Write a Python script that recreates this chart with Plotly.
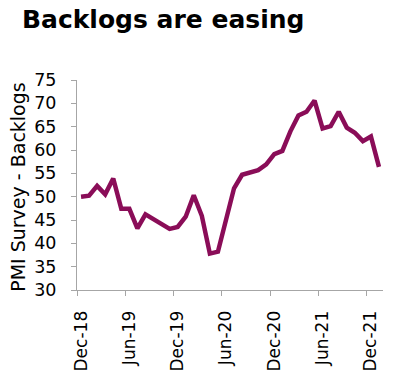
import plotly.graph_objects as go

months = ["Dec-18","Jan-19","Feb-19","Mar-19","Apr-19","May-19","Jun-19","Jul-19","Aug-19","Sep-19","Oct-19","Nov-19",
          "Dec-19","Jan-20","Feb-20","Mar-20","Apr-20","May-20","Jun-20","Jul-20","Aug-20","Sep-20","Oct-20","Nov-20",
          "Dec-20","Jan-21","Feb-21","Mar-21","Apr-21","May-21","Jun-21","Jul-21","Aug-21","Sep-21","Oct-21","Nov-21",
          "Dec-21","Jan-22"]
backlogs = [50.0, 50.2, 52.3, 50.5, 53.9, 47.4, 47.4, 43.2, 46.2, 45.2, 44.2, 43.1,
            43.5, 45.7, 50.3, 45.9, 37.8, 38.2, 45.0, 51.8, 54.7, 55.2, 55.7, 56.9,
            59.1, 59.8, 64.0, 67.4, 68.2, 70.6, 64.6, 65.1, 68.2, 64.8, 63.7, 61.9,
            62.9, 56.4]
label_months = ["Dec-18","Jun-19","Dec-19","Jun-20","Dec-20","Jun-21","Dec-21"]
y_ticks = [30, 35, 40, 45, 50, 55, 60, 65, 70, 75]

idx = list(range(len(months)))
label_idx = [months.index(m) for m in label_months]
boundary_idx = [i - 0.5 for i in label_idx]
xr = [-0.5, len(months) - 0.5]

GRAY = "#a6a6a6"
LINE = "#8a0d58"
FONT = "DejaVu Sans"

fig = go.Figure()
fig.add_trace(go.Scatter(x=idx, y=backlogs, mode="lines",
                         line=dict(color=LINE, width=4.5), hoverinfo="skip",
                         showlegend=False))
fig.add_trace(go.Scatter(x=idx, y=backlogs, mode="lines", xaxis="x2",
                         line=dict(color="rgba(0,0,0,0)", width=0), hoverinfo="skip",
                         showlegend=False))

fig.update_layout(
    width=393, height=381,
    margin=dict(l=77, r=10, t=80, b=81),
    paper_bgcolor="white", plot_bgcolor="white",
    font=dict(family=FONT, color="#000000", size=17),
    title=dict(text="<b>Backlogs are easing</b>", xref="container", yref="container",
               x=22/393, xanchor="left", y=1 - 10/381, yanchor="top",
               font=dict(family=FONT, size=25, color="#000000")),
    xaxis=dict(range=xr, tickmode="array", tickvals=boundary_idx,
               ticktext=["" for _ in boundary_idx],
               ticks="outside", ticklen=5, tickcolor=GRAY, tickwidth=1,
               showline=True, linecolor=GRAY, linewidth=1,
               showgrid=False, zeroline=False, fixedrange=True),
    xaxis2=dict(range=xr, overlaying="x", anchor="y", side="bottom",
                tickmode="array", tickvals=label_idx, ticktext=label_months,
                tickangle=-90, ticks="outside", ticklen=5, tickcolor="rgba(0,0,0,0)",
                ticklabelstandoff=8,
                showline=False, showgrid=False, zeroline=False,
                tickfont=dict(family=FONT, size=17, color="#000000")),
    yaxis=dict(range=[30, 75], tickmode="array", tickvals=y_ticks,
               ticks="outside", ticklen=5, tickcolor=GRAY, tickwidth=1,
               ticklabelstandoff=11,
               showline=True, linecolor=GRAY, linewidth=1,
               showgrid=False, zeroline=False,
               tickfont=dict(family=FONT, size=17.5, color="#000000")),
    annotations=[dict(text="PMI Survey - Backlogs", xref="paper", yref="paper",
                      x=-77/306 + 18.5/306, y=0.489, xanchor="center", yanchor="middle",
                      textangle=-90, showarrow=False,
                      font=dict(family=FONT, size=19, color="#000000"))],
)

fig.write_html("out.html")
